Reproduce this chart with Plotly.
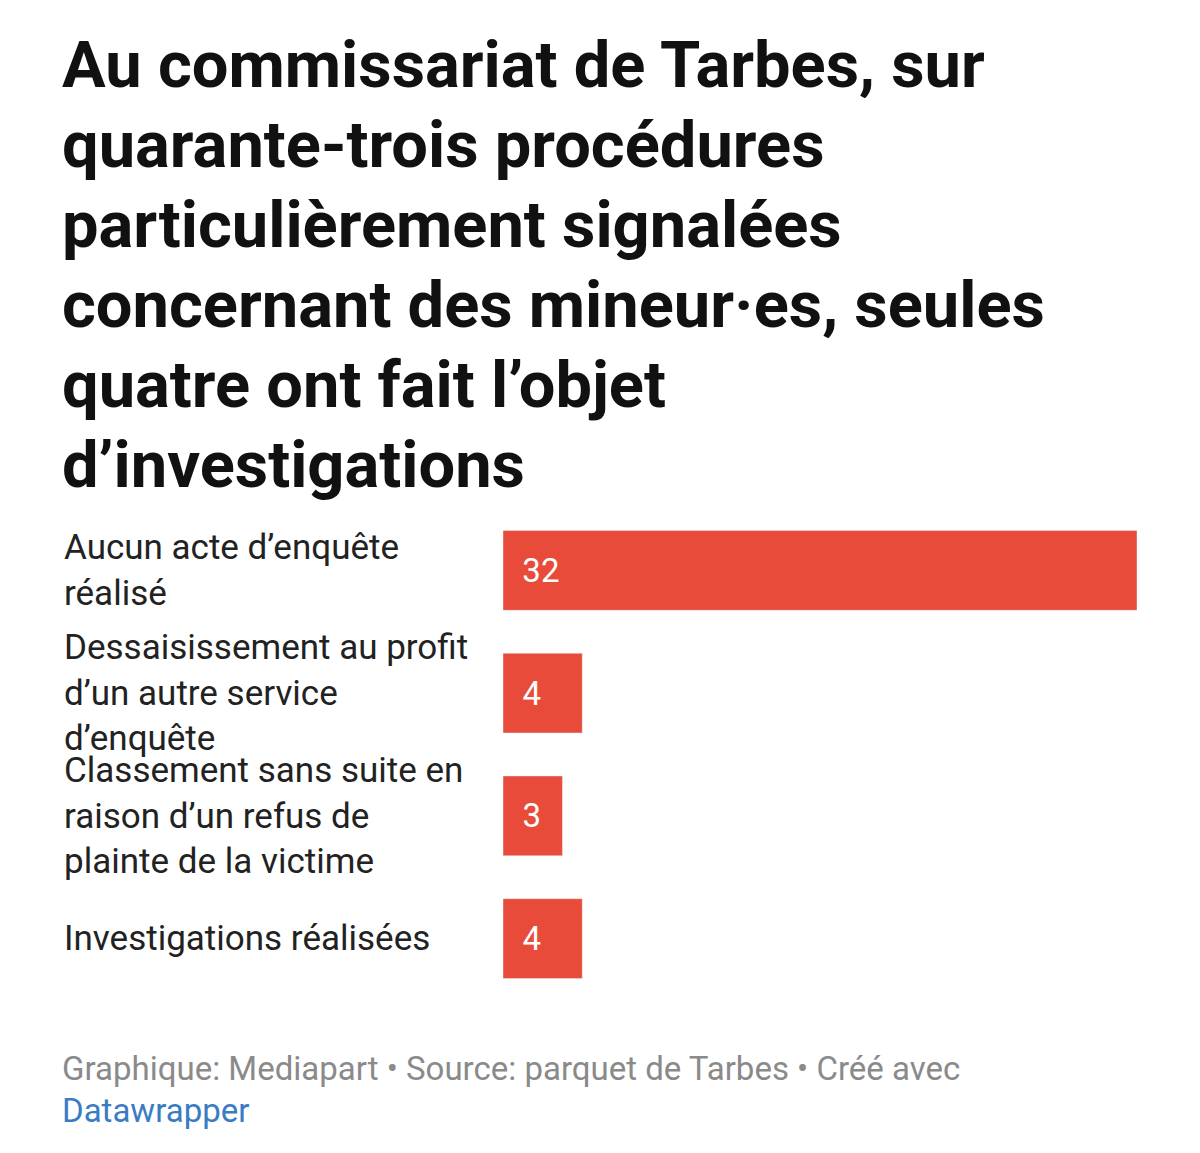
import plotly.graph_objects as go

categories = ["Aucun acte d’enquête<br>réalisé",
              "Dessaisissement au profit<br>d’un autre service<br>d’enquête",
              "Classement sans suite en<br>raison d’un refus de<br>plainte de la victime",
              "Investigations réalisées"]
values = [32, 4, 3, 4]

title_lines = ["Au commissariat de Tarbes, sur",
               "quarante-trois procédures",
               "particulièrement signalées",
               "concernant des mineur·es, seules",
               "quatre ont fait l’objet",
               "d’investigations"]

W, H = 1200, 1153
OFF = 8  # page body margin
L, R = 503 - OFF, 63 + OFF
T, B = 509 - OFF, 153 + OFF
ph = H - T - B
pw = W - L - R

def py(p):
    # target pixel from top -> paper y
    return (H - B - (p - OFF)) / ph

def px(p):
    return (p - OFF - L) / pw

keys = list(range(len(categories)))
fig = go.Figure(go.Bar(
    x=values, y=keys, orientation="h", width=0.65,
    marker_color="#e84b3a", text=["\u00a0\u00a0" + str(v) for v in values],
    textposition="inside", insidetextanchor="start",
    textfont=dict(color="white", size=33, family="Roboto"),
    hoverinfo="skip"))

ann = []
for i, line in enumerate(title_lines):
    ann.append(dict(text="<b>%s</b>" % line, x=px(60), y=py(65 + 80 * i),
                    xref="paper", yref="paper", xanchor="left", yanchor="middle",
                    showarrow=False, font=dict(size=65, color="#111", family="Roboto")))
for k, c in zip(keys, categories):
    ann.append(dict(text=c, x=px(62), y=k, xref="paper", yref="y",
                    xanchor="left", yanchor="middle", align="left", showarrow=False,
                    font=dict(size=35, color="#222", family="Roboto")))
ann.append(dict(text="Graphique: Mediapart • Source: parquet de Tarbes • Créé avec",
                x=px(60), y=py(1068), xref="paper", yref="paper",
                xanchor="left", yanchor="middle", showarrow=False,
                font=dict(size=33, color="#8a8a8a", family="Roboto")))
ann.append(dict(text="Datawrapper", x=px(60), y=py(1110), xref="paper", yref="paper",
                xanchor="left", yanchor="middle", showarrow=False,
                font=dict(size=33, color="#3a7cc4", family="Roboto")))

fig.update_layout(
    width=W, height=H, margin=dict(l=L, r=R, t=T, b=B),
    paper_bgcolor="white", plot_bgcolor="white", showlegend=False,
    xaxis=dict(range=[0, 32], visible=False),
    yaxis=dict(range=[3.5, -0.5], visible=False),
    annotations=ann)

fig.write_html("out.html")
